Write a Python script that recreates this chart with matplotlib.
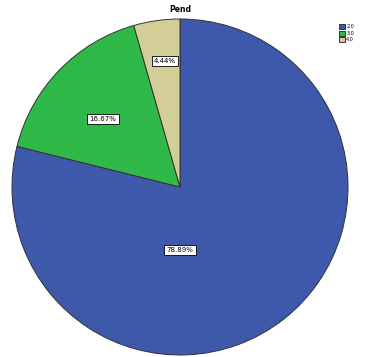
import numpy as np
import matplotlib
matplotlib.use('Agg')
import matplotlib.pyplot as plt

# Pend categories and percents
categories = ['2.0', '3.0', '4.0']
percents = [78.89, 16.67, 4.44]
colors = ['#3E58AC', '#2EB848', '#D3CE97']

fig = plt.figure(figsize=(3.7, 3.57), dpi=100)
ax = fig.add_axes([12/370, 2/357, 336/370, 336/357])

wedges, texts, autotexts = ax.pie(percents, colors=colors, startangle=90, counterclock=False,
                                  autopct='%1.2f%%', pctdistance=0.6,
                                  wedgeprops=dict(linewidth=0.7, edgecolor='#333333'))
ax.set_xlim(-1, 1)
ax.set_ylim(-1, 1)
ax.set_aspect('equal')

# label spots, roughly where the original tool put them
label_pos = [(0.0, -0.375), (-0.458, 0.405), (-0.089, 0.75)]
for t, p in zip(autotexts, label_pos):
    t.set_position(p)
    t.set_fontsize(5)
    t.set_color('black')
    t.set_bbox(dict(facecolor='white', edgecolor='black', linewidth=0.6, pad=1.6))

fig.text(180/370, 1 - 9/357, 'Pend', ha='center', va='center', fontsize=5.5, fontweight='bold')

leg = fig.legend(wedges, categories, loc='upper left', bbox_to_anchor=(337/370, 1 - 22/357),
                 frameon=False, fontsize=3.5, handlelength=1.1, handleheight=1.1,
                 handletextpad=0.3, labelspacing=0.3, borderpad=0)

fig.savefig('out.png', dpi=100)
